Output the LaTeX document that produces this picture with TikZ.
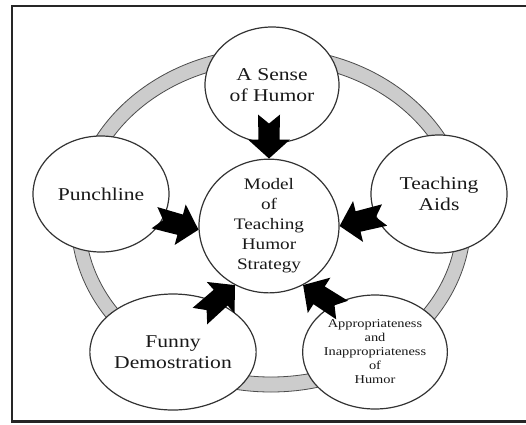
\documentclass[tikz,border=0pt]{standalone}
\usepackage{fontspec}
\setmainfont{Liberation Serif}[FakeStretch=1.2]
\usetikzlibrary{shapes.geometric,calc}
\tikzset{
  bubble/.style={ellipse, draw=black!80, line width=1.2pt, fill=white,
    inner sep=0pt, align=center, text=black!90},
  bigtext/.style={font=\fontsize{18pt}{21pt}\selectfont},
  midtext/.style={font=\fontsize{16pt}{20pt}\selectfont},
  smalltext/.style={font=\fontsize{12pt}{14pt}\selectfont},
  ringband/.style={fill=gray!40, draw=black!70, line width=0.8pt, even odd rule},
  framestyle/.style={draw=black!85, line width=2.2pt},
}
\newcommand{\blockarrow}[2]{%
  \coordinate (#1h) at ($(#2)!19pt!(#1)$);
  \coordinate (#1n) at ($(#1)!9pt!(#2)$);
  \fill[black] ($(#1)!11pt!90:(#2)$) -- ($(#1h)!10.5pt!90:(#2)$)
    -- ($(#1h)!21pt!90:(#2)$) -- (#2) -- ($(#1h)!21pt!-90:(#2)$)
    -- ($(#1h)!10.5pt!-90:(#2)$) -- ($(#1)!11pt!-90:(#2)$) -- (#1n) -- cycle;}
\begin{document}
\begin{tikzpicture}[x=1pt,y=-1pt]
\useasboundingbox (0,0) rectangle (526,424);
\clip (0,0) rectangle (526,424);
\fill[white] (0,0) rectangle (526,424);
\draw[framestyle] (12,6) rectangle (540,421.5);
% ring
\path[ringband] (271,220) ellipse [x radius=200, y radius=172]
                (271,220) ellipse [x radius=186, y radius=157];
% bubbles
\node[bubble, midtext, minimum width=140pt, minimum height=120pt] (cen) at (269,226)
  {Model\\of\\Teaching\\Humor\\Strategy};
\node[bubble, bigtext, minimum width=134pt, minimum height=116pt] (top) at (272,85)
  {A Sense\\of Humor};
\node[bubble, bigtext, minimum width=136pt, minimum height=116pt] (punch) at (101,194)
  {Punchline};
\node[bubble, bigtext, minimum width=136pt, minimum height=118pt] (aids) at (439,194)
  {Teaching\\Aids};
\node[bubble, bigtext, minimum width=136pt, minimum height=116pt] (funny) at (173,352)
  {Funny\\Demostration};
\node[bubble, smalltext, minimum width=134pt, minimum height=114pt] (appr) at (375,352)
  {Appropriateness\\and\\Inappropriateness\\of\\Humor};
% arrow tails
\coordinate (tT) at ($(cen.north)+(0,-44)$);
\coordinate (tP) at ($(cen.183)+(-44,-12)$);
\coordinate (tA) at ($(cen.0)+(45,-11)$);
\coordinate (tF) at ($(cen.-120)+(-35,31)$);
\coordinate (tR) at ($(cen.-60)+(39,25)$);
\blockarrow{tT}{cen.north}
\blockarrow{tP}{cen.183}
\blockarrow{tA}{cen.0}
\blockarrow{tF}{cen.-120}
\blockarrow{tR}{cen.-60}
\end{tikzpicture}
\end{document}
